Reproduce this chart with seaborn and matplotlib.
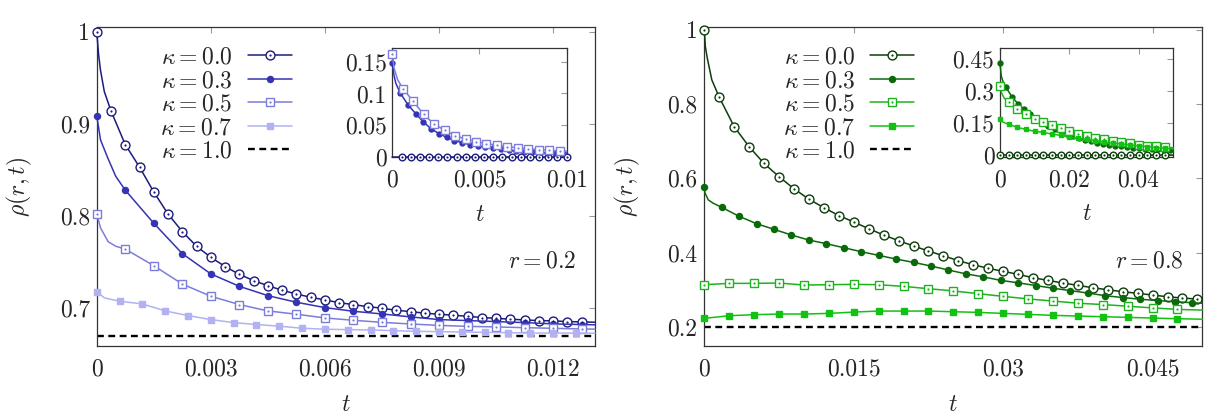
import numpy as np
import pandas as pd
import matplotlib
matplotlib.use("Agg")
import matplotlib.pyplot as plt
from matplotlib.legend_handler import HandlerTuple
import seaborn as sns

# ---------------- data ----------------
# left panel (r = 0.2): marker samples, extra points on the curve (start / end)
L_STEP_K00, L_STEP_K03, L_STEP_K05, L_STEP_K07 = 0.000375, 0.00075, 0.00075, 0.0006
L_K00 = [1.000, 0.914, 0.8775, 0.853, 0.826, 0.802, 0.783, 0.767, 0.755, 0.745,
         0.7365, 0.7297, 0.7242, 0.7192, 0.7152, 0.7116, 0.7087, 0.7058, 0.7036,
         0.7015, 0.6997, 0.6975, 0.6961, 0.6943, 0.6932, 0.6921, 0.691, 0.6896,
         0.6888, 0.6878, 0.687, 0.6863, 0.686, 0.6852, 0.6849]
L_K03 = [0.909, 0.828, 0.792, 0.759, 0.737, 0.7235, 0.7134, 0.7062, 0.7004, 0.6964,
         0.6935, 0.6903, 0.6874, 0.6863, 0.6852, 0.6841, 0.6827, 0.682]
L_K05 = [0.8023, 0.764, 0.7459, 0.726, 0.7127, 0.7037, 0.6968, 0.6932, 0.6892, 0.6866,
         0.6844, 0.6826, 0.6811, 0.68, 0.6794, 0.6786, 0.6779, 0.6772]
L_K07 = [0.7178, 0.7073, 0.7044, 0.6968, 0.6917, 0.6874, 0.6841, 0.682, 0.6802, 0.678,
         0.6769, 0.6765, 0.6761, 0.6754, 0.6746, 0.6743, 0.6739, 0.6735, 0.6732,
         0.6728, 0.6728, 0.6727]
L_K00_EXTRA = ([0.00005, 0.0001, 0.0002, 0.0131], [0.975, 0.958, 0.935, 0.6845])
L_K03_EXTRA = ([0.0001, 0.0003, 0.0005, 0.0131], [0.8825, 0.862, 0.843, 0.6817])
L_K05_EXTRA = ([0.0001, 0.0003, 0.0005, 0.0131], [0.787, 0.772, 0.767, 0.677])
L_K07_EXTRA = ([0.0002, 0.0131], [0.711, 0.6726])
L_K10 = 0.67

# left inset
LI_STEP_K00, LI_STEP_K03, LI_STEP_K05 = 0.01 / 19, 0.000445, 0.0006
LI_K00 = [0.0] * 19          # markers start one step after t = 0
LI_K03 = [0.148, 0.101, 0.0826, 0.0684, 0.0553, 0.0445, 0.037, 0.031, 0.026, 0.0226,
          0.0197, 0.0176, 0.0155, 0.0137, 0.0121, 0.0108, 0.0095, 0.0087, 0.008,
          0.0074, 0.0069, 0.0065, 0.006]
LI_K05 = [0.1615, 0.1078, 0.0878, 0.067, 0.052, 0.0421, 0.0336, 0.0284, 0.0245, 0.0213,
          0.0187, 0.0166, 0.0145, 0.013, 0.0119, 0.0106, 0.0098]
LI_K00_EXTRA = ([0.0], [0.0])
LI_K03_EXTRA = ([0.0001, 0.0002, 0.01], [0.128, 0.116, 0.0058])
LI_K05_EXTRA = ([0.0001, 0.0003, 0.01], [0.14, 0.122, 0.0094])

# right panel (r = 0.8)
R_STEP_K00, R_STEP_K03, R_STEP_K05, R_STEP_K07 = 0.0015, 0.00175, 0.0025, 0.0025
R_K00 = [1.0, 0.818, 0.739, 0.685, 0.64, 0.6045, 0.572, 0.544, 0.521, 0.5, 0.4825,
         0.4646, 0.4475, 0.4323, 0.418, 0.4045, 0.3918, 0.3784, 0.3676, 0.3579, 0.3499,
         0.3418, 0.3326, 0.3256, 0.3184, 0.3122, 0.3057, 0.3003, 0.295, 0.2907, 0.2861,
         0.2815, 0.278, 0.2753]
R_K03 = [0.5758, 0.522, 0.4977, 0.478, 0.4628, 0.4475, 0.434, 0.4242, 0.4134, 0.4027,
         0.3928, 0.3829, 0.374, 0.3641, 0.3535, 0.343, 0.335, 0.3256, 0.319, 0.3117,
         0.3044, 0.298, 0.2915, 0.2843, 0.2794, 0.2748, 0.2712, 0.2681, 0.2654]
R_K05 = [0.3139, 0.3175, 0.3175, 0.3184, 0.313, 0.3139, 0.3148, 0.3139, 0.3094, 0.3031,
         0.2972, 0.2897, 0.2825, 0.2757, 0.27, 0.2641, 0.2605, 0.256, 0.2515, 0.2475]
R_K07 = [0.2233, 0.2305, 0.2332, 0.235, 0.235, 0.2367, 0.2403, 0.243, 0.243, 0.243,
         0.2412, 0.2394, 0.2367, 0.2341, 0.2314, 0.2296, 0.2278, 0.226, 0.2242, 0.2224]
R_K00_EXTRA = ([0.0001, 0.0003, 0.00075, 0.05], [0.955, 0.923, 0.865, 0.274])
R_K03_EXTRA = ([0.00007, 0.0004, 0.0009, 0.05], [0.56, 0.542, 0.533, 0.264])
R_K05_EXTRA = ([0.05], [0.2455])
R_K07_EXTRA = ([0.05], [0.221])
R_K10 = 0.2

# right inset
RI_STEP_K00, RI_STEP_K03, RI_STEP_K05, RI_STEP_K07 = 0.0025, 0.00175, 0.0025, 0.0025
RI_K00 = [0.0] * 20
RI_K03 = [0.433, 0.318, 0.272, 0.24, 0.214, 0.192, 0.172, 0.154, 0.138, 0.124, 0.111,
          0.099, 0.088, 0.079, 0.071, 0.064, 0.058, 0.053, 0.048, 0.044, 0.04, 0.037,
          0.034, 0.032, 0.03, 0.028, 0.026, 0.025, 0.024]
RI_K05 = [0.325, 0.247, 0.216, 0.192, 0.17, 0.155, 0.141, 0.127, 0.1125, 0.1, 0.0906,
          0.081, 0.0734, 0.067, 0.059, 0.0547, 0.0484, 0.0437, 0.0406, 0.036]
RI_K07 = [0.169, 0.144, 0.13, 0.12, 0.111, 0.106, 0.098, 0.092, 0.084, 0.078, 0.073,
          0.067, 0.061, 0.056, 0.052, 0.047, 0.042, 0.039, 0.034, 0.031]
RI_K00_EXTRA = ([0.05], [0.0])
RI_K03_EXTRA = ([0.0004, 0.001, 0.05], [0.37, 0.34, 0.023])
RI_K05_EXTRA = ([0.0005, 0.0012, 0.05], [0.29, 0.268, 0.034])
RI_K07_EXTRA = ([0.0008, 0.05], [0.155, 0.029])

KAPPA_LABELS = [r"$\kappa = 0.0$", r"$\kappa = 0.3$", r"$\kappa = 0.5$",
                r"$\kappa = 0.7$", r"$\kappa = 1.0$"]

L_XTICKS = [0, 0.003, 0.006, 0.009, 0.012]
L_XTICKLABELS = ["0", "0.003", "0.006", "0.009", "0.012"]
L_YTICKS = [0.7, 0.8, 0.9, 1.0]
L_YTICKLABELS = ["0.7", "0.8", "0.9", "1"]
R_XTICKS = [0, 0.015, 0.03, 0.045]
R_XTICKLABELS = ["0", "0.015", "0.03", "0.045"]
R_YTICKS = [0.2, 0.4, 0.6, 0.8, 1.0]
R_YTICKLABELS = ["0.2", "0.4", "0.6", "0.8", "1"]
LI_XTICKS, LI_XTICKLABELS = [0, 0.005, 0.01], ["0", "0.005", "0.01"]
LI_YTICKS, LI_YTICKLABELS = [0, 0.05, 0.1, 0.15], ["0", "0.05", "0.1", "0.15"]
RI_XTICKS, RI_XTICKLABELS = [0, 0.02, 0.04], ["0", "0.02", "0.04"]
RI_YTICKS, RI_YTICKLABELS = [0, 0.15, 0.3, 0.45], ["0", "0.15", "0.3", "0.45"]

# ---------------- styles ----------------
BLUES = ["#1c1c7c", "#3434b4", "#7c7cdc", "#b2b2f2"]
GREENS = ["#0c3e0c", "#0a6a0a", "#1cb41c", "#12c212"]
MARKERS = [("o", True), ("o", False), ("s", True), ("s", False)]  # (shape, open)
FS_TICK, FS_TEXT = 17, 17


def draw(ax, step, values, extra, color, marker, hollow, ms, first=0, label=None):
    t_mark = np.round((np.arange(len(values)) + first) * step, 8)
    t_line = np.concatenate([t_mark, extra[0]])
    r_line = np.concatenate([values, extra[1]])
    order = np.argsort(t_line)
    df = pd.DataFrame({"t": t_line[order], "rho": r_line[order]})
    idx = list(np.flatnonzero(np.isin(df["t"].values, t_mark)))
    size = ms if hollow else ms * 0.68
    if marker == "s":
        size *= 0.9
    sns.lineplot(data=df, x="t", y="rho", ax=ax, estimator=None, sort=False,
                 color=color, lw=1.1, marker=marker, markevery=idx, ms=size,
                 mfc="white" if hollow else color, mec=color, mew=1.0,
                 clip_on=False, zorder=3, label=label, legend=False)
    handle = ax.lines[-1]
    if hollow:
        dots = pd.DataFrame({"t": t_mark, "rho": values})
        sns.lineplot(data=dots, x="t", y="rho", ax=ax, estimator=None, sort=False,
                     color=color, linestyle="none", marker="o", ms=1.6, mew=0,
                     mfc=color, clip_on=False, zorder=4, legend=False)
        handle = (handle, ax.lines[-1])
    return handle


def style_axes(ax, xt, xtl, yt, ytl):
    ax.set_xticks(xt)
    ax.set_xticklabels(xtl)
    ax.set_yticks(yt)
    ax.set_yticklabels(ytl)
    ax.tick_params(direction="in", top=True, right=True, length=4, width=0.8,
                   color="#9a9a9a", labelsize=FS_TICK)
    ax.tick_params(axis="x", pad=9)
    ax.tick_params(axis="y", pad=5)
    for sp in ax.spines.values():
        sp.set_color("#333333")
        sp.set_linewidth(0.9)
    ax.grid(False)


def main():
    sns.set_theme(style="white")
    plt.rcParams["font.family"] = ["cmr10", "DejaVu Serif"]
    plt.rcParams["mathtext.fontset"] = "cm"
    plt.rcParams["axes.formatter.use_mathtext"] = True

    fig = plt.figure(figsize=(12.15, 4.2), dpi=100)
    ax_l = fig.add_axes([0.0796, 0.1762, 0.4101, 0.7588])
    ax_r = fig.add_axes([0.5797, 0.1762, 0.4099, 0.7588])
    in_l = fig.add_axes([0.3229, 0.6255, 0.1435, 0.2595])
    in_r = fig.add_axes([0.8230, 0.6271, 0.1426, 0.2581])

    panels = [
        (ax_l, BLUES, [(L_STEP_K00, L_K00, L_K00_EXTRA), (L_STEP_K03, L_K03, L_K03_EXTRA),
                       (L_STEP_K05, L_K05, L_K05_EXTRA), (L_STEP_K07, L_K07, L_K07_EXTRA)],
         L_K10, (0, 0.0131), (0.6587, 1.0048), L_XTICKS, L_XTICKLABELS, L_YTICKS,
         L_YTICKLABELS, r"$r = 0.2$", 0.128),
        (ax_r, GREENS, [(R_STEP_K00, R_K00, R_K00_EXTRA), (R_STEP_K03, R_K03, R_K03_EXTRA),
                        (R_STEP_K05, R_K05, R_K05_EXTRA), (R_STEP_K07, R_K07, R_K07_EXTRA)],
         R_K10, (0, 0.05), (0.149, 1.0064), R_XTICKS, R_XTICKLABELS, R_YTICKS,
         R_YTICKLABELS, r"$r = 0.8$", 0.158),
    ]
    for ax, cols, series, k10, xl, yl, xt, xtl, yt, ytl, rtxt, lx in panels:
        handles = []
        for (step, vals, extra), col, (mk, hollow), lab in zip(series, cols, MARKERS,
                                                                KAPPA_LABELS):
            handles.append(draw(ax, step, vals, extra, col, mk, hollow, 6.4, label=lab))
        dash = ax.axhline(k10, color="black", lw=1.7, dashes=(2.9, 1.9), zorder=2)
        handles.append(dash)
        ax.set_xlim(*xl)
        ax.set_ylim(*yl)
        style_axes(ax, xt, xtl, yt, ytl)
        ax.set_xlabel(r"$t$", fontsize=FS_TEXT)
        ax.set_ylabel(r"$\rho(r,t)$", fontsize=FS_TEXT)
        ax.xaxis.set_label_coords(0.5, -0.15)
        ax.yaxis.set_label_coords(-0.125, 0.5)
        ax.text(0.962, 0.265, rtxt, transform=ax.transAxes, ha="right", va="center",
                fontsize=FS_TEXT)
        ax.legend(handles, KAPPA_LABELS, loc="upper left", bbox_to_anchor=(lx, 0.94),
                  frameon=False, markerfirst=False, handlelength=1.85,
                  handletextpad=0.65, labelspacing=0.06, borderpad=0, borderaxespad=0,
                  fontsize=FS_TEXT, handler_map={tuple: HandlerTuple(ndivide=1)})

    # insets
    draw(in_l, LI_STEP_K00, LI_K00, LI_K00_EXTRA, BLUES[0], "o", True, 4.8, first=1)
    draw(in_l, LI_STEP_K03, LI_K03, LI_K03_EXTRA, BLUES[1], "o", False, 5.2)
    draw(in_l, LI_STEP_K05, LI_K05, LI_K05_EXTRA, BLUES[2], "s", True, 5.8)
    in_l.set_xlim(0, 0.01)
    in_l.set_ylim(-0.0003, 0.171)
    style_axes(in_l, LI_XTICKS, LI_XTICKLABELS, LI_YTICKS, LI_YTICKLABELS)

    draw(in_r, RI_STEP_K00, RI_K00, RI_K00_EXTRA, GREENS[0], "o", True, 4.8)
    draw(in_r, RI_STEP_K03, RI_K03, RI_K03_EXTRA, GREENS[1], "o", False, 5.2)
    draw(in_r, RI_STEP_K05, RI_K05, RI_K05_EXTRA, GREENS[2], "s", True, 5.8)
    draw(in_r, RI_STEP_K07, RI_K07, RI_K07_EXTRA, GREENS[3], "s", False, 5.8)
    in_r.set_xlim(0, 0.05)
    in_r.set_ylim(-0.008, 0.502)
    style_axes(in_r, RI_XTICKS, RI_XTICKLABELS, RI_YTICKS, RI_YTICKLABELS)

    for ax in (in_l, in_r):
        ax.set_xlabel(r"$t$", fontsize=FS_TEXT)
        ax.set_ylabel("")
        ax.xaxis.set_label_coords(0.5, -0.43)
        ax.tick_params(axis="y", pad=4)

    fig.savefig("out.png", dpi=100)


if __name__ == "__main__":
    main()
